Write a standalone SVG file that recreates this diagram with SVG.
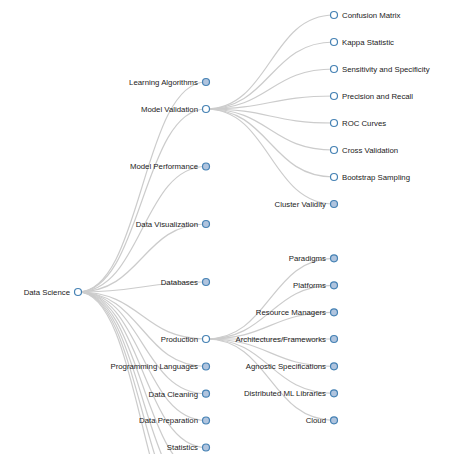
<svg xmlns="http://www.w3.org/2000/svg" width="474" height="454" viewBox="0 0 474 454">
<style>
.link{fill:none;stroke:#ccc;stroke-width:1.2}
.node circle{stroke:#4682b4;stroke-width:1.2}
.open{fill:#fff}
.closed{fill:#b0c4de}
text{font-family:"Liberation Sans",Arial,sans-serif;font-size:7.8px;fill:#222}
.l{text-anchor:end}
.r{text-anchor:start}
</style>
<rect width="474" height="454" fill="#fff"/>
<g id="links">
<path class="link" d="M78,292C142,292 142,82 206,82"/>
<path class="link" d="M78,292C142,292 142,109 206,109"/>
<path class="link" d="M78,292C142,292 142,166.5 206,166.5"/>
<path class="link" d="M78,292C142,292 142,224 206,224"/>
<path class="link" d="M78,292C142,292 142,282 206,282"/>
<path class="link" d="M78,292C142,292 142,339 206,339"/>
<path class="link" d="M78,292C142,292 142,366.5 206,366.5"/>
<path class="link" d="M78,292C142,292 142,393.7 206,393.7"/>
<path class="link" d="M78,292C142,292 142,420.5 206,420.5"/>
<path class="link" d="M78,292C142,292 142,447.5 206,447.5"/>
<path class="link" d="M78,292C142,292 142,475 206,475"/>
<path class="link" d="M78,292C142,292 142,502 206,502"/>
<path class="link" d="M78,292C142,292 142,529 206,529"/>
<path class="link" d="M78,292C142,292 142,556 206,556"/>
<path class="link" d="M206,109C270,109 270,15 334,15"/>
<path class="link" d="M206,109C270,109 270,42 334,42"/>
<path class="link" d="M206,109C270,109 270,69 334,69"/>
<path class="link" d="M206,109C270,109 270,96 334,96"/>
<path class="link" d="M206,109C270,109 270,123 334,123"/>
<path class="link" d="M206,109C270,109 270,150 334,150"/>
<path class="link" d="M206,109C270,109 270,177 334,177"/>
<path class="link" d="M206,109C270,109 270,204 334,204"/>
<path class="link" d="M206,339C270,339 270,258.3 334,258.3"/>
<path class="link" d="M206,339C270,339 270,285.3 334,285.3"/>
<path class="link" d="M206,339C270,339 270,312.3 334,312.3"/>
<path class="link" d="M206,339C270,339 270,339 334,339"/>
<path class="link" d="M206,339C270,339 270,366.3 334,366.3"/>
<path class="link" d="M206,339C270,339 270,393.3 334,393.3"/>
<path class="link" d="M206,339C270,339 270,420.3 334,420.3"/>
</g>
<g id="n-data-science" class="node"><circle class="open" cx="78" cy="292" r="3.5"/><text class="l" x="70" y="294.8">Data Science</text></g>
<g id="n-learning-algorithms" class="node"><circle class="closed" cx="206" cy="82" r="3.5"/><text class="l" x="198" y="84.8">Learning Algorithms</text></g>
<g id="n-model-validation" class="node"><circle class="open" cx="206" cy="109" r="3.5"/><text class="l" x="198" y="111.8">Model Validation</text></g>
<g id="n-model-performance" class="node"><circle class="closed" cx="206" cy="166.5" r="3.5"/><text class="l" x="198" y="169.3">Model Performance</text></g>
<g id="n-data-visualization" class="node"><circle class="closed" cx="206" cy="224" r="3.5"/><text class="l" x="198" y="226.8">Data Visualization</text></g>
<g id="n-databases" class="node"><circle class="closed" cx="206" cy="282" r="3.5"/><text class="l" x="198" y="284.8">Databases</text></g>
<g id="n-production" class="node"><circle class="open" cx="206" cy="339" r="3.5"/><text class="l" x="198" y="341.8">Production</text></g>
<g id="n-programming-languages" class="node"><circle class="closed" cx="206" cy="366.5" r="3.5"/><text class="l" x="198" y="369.3">Programming Languages</text></g>
<g id="n-data-cleaning" class="node"><circle class="closed" cx="206" cy="393.7" r="3.5"/><text class="l" x="198" y="396.5">Data Cleaning</text></g>
<g id="n-data-preparation" class="node"><circle class="closed" cx="206" cy="420.5" r="3.5"/><text class="l" x="198" y="423.3">Data Preparation</text></g>
<g id="n-statistics" class="node"><circle class="closed" cx="206" cy="447.5" r="3.5"/><text class="l" x="198" y="450.3">Statistics</text></g>
<g id="n-confusion-matrix" class="node"><circle class="open" cx="334" cy="15" r="3.5"/><text class="r" x="342" y="17.8">Confusion Matrix</text></g>
<g id="n-kappa-statistic" class="node"><circle class="open" cx="334" cy="42" r="3.5"/><text class="r" x="342" y="44.8">Kappa Statistic</text></g>
<g id="n-sensitivity" class="node"><circle class="open" cx="334" cy="69" r="3.5"/><text class="r" x="342" y="71.8">Sensitivity and Specificity</text></g>
<g id="n-precision" class="node"><circle class="open" cx="334" cy="96" r="3.5"/><text class="r" x="342" y="98.8">Precision and Recall</text></g>
<g id="n-roc" class="node"><circle class="open" cx="334" cy="123" r="3.5"/><text class="r" x="342" y="125.8">ROC Curves</text></g>
<g id="n-cross-validation" class="node"><circle class="open" cx="334" cy="150" r="3.5"/><text class="r" x="342" y="152.8">Cross Validation</text></g>
<g id="n-bootstrap" class="node"><circle class="open" cx="334" cy="177" r="3.5"/><text class="r" x="342" y="179.8">Bootstrap Sampling</text></g>
<g id="n-cluster-validity" class="node"><circle class="closed" cx="334" cy="204" r="3.5"/><text class="l" x="326" y="206.8">Cluster Validity</text></g>
<g id="n-paradigms" class="node"><circle class="closed" cx="334" cy="258.3" r="3.5"/><text class="l" x="326" y="261.1">Paradigms</text></g>
<g id="n-platforms" class="node"><circle class="closed" cx="334" cy="285.3" r="3.5"/><text class="l" x="326" y="288.1">Platforms</text></g>
<g id="n-resource-managers" class="node"><circle class="closed" cx="334" cy="312.3" r="3.5"/><text class="l" x="326" y="315.1">Resource Managers</text></g>
<g id="n-architectures" class="node"><circle class="closed" cx="334" cy="339" r="3.5"/><text class="l" x="326" y="341.8">Architectures/Frameworks</text></g>
<g id="n-agnostic" class="node"><circle class="closed" cx="334" cy="366.3" r="3.5"/><text class="l" x="326" y="369.1">Agnostic Specifications</text></g>
<g id="n-distributed-ml" class="node"><circle class="closed" cx="334" cy="393.3" r="3.5"/><text class="l" x="326" y="396.1">Distributed ML Libraries</text></g>
<g id="n-cloud" class="node"><circle class="closed" cx="334" cy="420.3" r="3.5"/><text class="l" x="326" y="423.1">Cloud</text></g>
</svg>
